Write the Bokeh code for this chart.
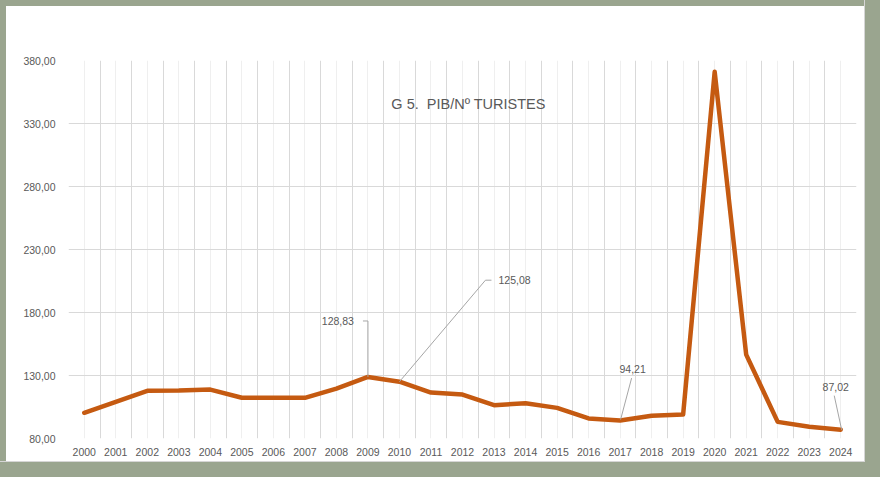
from bokeh.plotting import figure
from bokeh.models import Range1d, FixedTicker, Label
from bokeh.embed import file_html
from bokeh.resources import INLINE

# ---- data ----
years = list(range(2000, 2025))
ratio = [100.4, 109.0, 117.8, 118.0, 118.8, 112.3, 112.3, 112.3, 119.6, 128.83,
         125.08, 116.5, 114.9, 106.4, 108.0, 104.3, 95.9, 94.21, 98.0, 99.0,
         371.0, 146.6, 93.2, 89.3, 87.02]
y_ticks = [80, 130, 180, 230, 280, 330, 380]
y_tick_labels = ["80,00", "130,00", "180,00", "230,00", "280,00", "330,00", "380,00"]
title_text = "G 5.\u00a0 PIB/Nº TURISTES"
annot_years = [2009, 2010, 2017, 2024]

# leader geometry in screen pixels relative to the point (x right, y down)
leader_px = {
    2009: [(0, 0), (0, -56), (-5, -56)],
    2010: [(0, 0), (86, -101.5), (92, -101.5)],
    2017: [(0.5, -1), (11.5, -42.5)],
    2024: [(1, 0.5), (-6.5, -34)],
}
label_px = {
    2009: (-14, -55.5, "right"),
    2010: (99, -101.5, "left"),
    2017: (12.5, -51.5, "center"),
    2024: (-5, -43, "center"),
}

GRAY = "#595959"
GREEN = "#9aa58f"
FONT = "Liberation Sans"

W, H = 864, 461
ML, MR, MT, MB = 62, 14, 54, 29
x0, x1 = years[0] - 0.5, years[-1] + 0.5
y0, y1 = y_ticks[0], y_ticks[-1]
PXX = (W - ML - MR) / (x1 - x0)
PXY = (H - MT - MB) / (y1 - y0)

p = figure(width=W, height=H, x_range=Range1d(x0, x1), y_range=Range1d(y0, y1),
           output_backend="svg", toolbar_location=None,
           min_border_left=ML, min_border_right=MR, min_border_top=MT, min_border_bottom=MB)
p.styles = {"border-left": f"6px solid {GREEN}", "border-top": f"6px solid {GREEN}",
            "box-shadow": f"0 0 0 1px #d6d6d6, 0 0 0 16px {GREEN}"}
p.border_fill_color = "white"
p.background_fill_color = "white"
p.outline_line_color = None

# axes
for ax in (p.xaxis, p.yaxis):
    ax.axis_line_color = None
    ax.major_tick_line_color = None
    ax.minor_tick_line_color = None
    ax.major_tick_in = 0
    ax.major_tick_out = 0
    ax.major_label_text_color = GRAY
    ax.major_label_text_font = FONT
    ax.major_label_text_font_size = "10.5px"
p.xaxis.ticker = FixedTicker(ticks=years)
p.xaxis.major_label_overrides = {y: str(y) for y in years}
p.xaxis.major_label_standoff = 9
p.yaxis.ticker = FixedTicker(ticks=y_ticks)
p.yaxis.major_label_overrides = dict(zip(y_ticks, y_tick_labels))
p.yaxis.major_label_standoff = 13

# grids
p.ygrid.ticker = FixedTicker(ticks=y_ticks)
p.ygrid.grid_line_color = "#d9d9d9"
p.xgrid.ticker = FixedTicker(ticks=[y - 0.5 for y in years] + [years[-1] + 0.5], minor_ticks=years)
p.xgrid.grid_line_color = "#d9d9d9"
p.xgrid.minor_grid_line_color = "#efefef"

# series
p.line(years, ratio, line_color="#c55a11", line_width=4.5, line_join="round", line_cap="round")

# annotations
xs, ys = [], []
for yr in annot_years:
    v = ratio[years.index(yr)]
    xs.append([yr + dx / PXX for dx, dy in leader_px[yr]])
    ys.append([v - dy / PXY for dx, dy in leader_px[yr]])
    lx, ly, al = label_px[yr]
    p.add_layout(Label(x=yr + lx / PXX, y=v - ly / PXY, text=f"{v:.2f}".replace(".", ","),
                       text_align=al, text_baseline="middle", text_color=GRAY,
                       text_font=FONT, text_font_size="10.5px"))
p.multi_line(xs, ys, line_color="#a6a6a6", line_width=1)

# title inside the plot area
p.add_layout(Label(x=400, y=335, x_units="screen", y_units="screen", text=title_text,
                   text_align="center", text_baseline="middle", text_color=GRAY,
                   text_font=FONT, text_font_size="14.5px"))

open("out.html", "w").write(file_html(p, INLINE))
